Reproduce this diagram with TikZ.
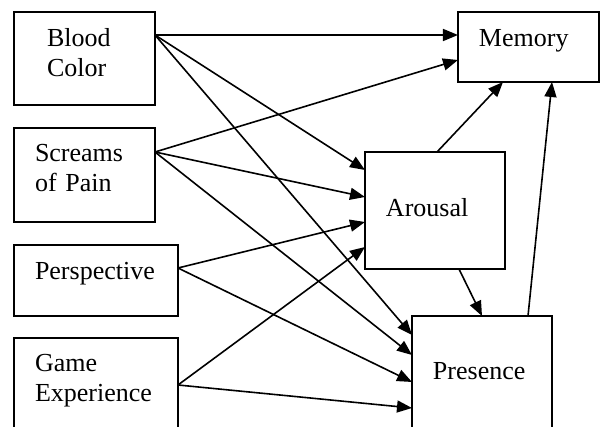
\documentclass[tikz,border=0pt]{standalone}
\usepackage{fontspec}
\setmainfont{Liberation Serif}
\usetikzlibrary{arrows.meta}
\begin{document}
\begin{tikzpicture}[x=0.5pt,y=-0.5pt,
  box/.style={draw, rectangle, line width=0.8pt, anchor=north west, align=left,
    inner xsep=10.5pt, inner ysep=0pt, outer sep=0pt, font=\fontsize{13}{15}\selectfont},
  arr/.style={line width=0.8pt, -{Triangle[length=7.5pt,width=6pt]}}]
\clip (0,0) rectangle (602,427);
\node[box, inner xsep=16.5pt, text width=37.5pt, text height=17.5pt, text depth=29pt] (blood) at (14,12) {Blood\\Color};
\node[box, text width=49.5pt, text height=17pt, text depth=30pt] (screams) at (14,128) {Screams\\of~Pain};
\node[box, text width=61pt, text height=17.5pt, text depth=18pt] (persp) at (14,245) {Perspective};
\node[box, text width=61pt, text height=17pt, text depth=34pt] (game) at (14,338) {Game\\Experience};
\node[box, text width=49.5pt, text height=17.5pt, text depth=17.5pt] (memory) at (458,12) {Memory};
\node[box, text width=49pt, text height=32.5pt, text depth=26pt] (arousal) at (365,152) {Arousal};
\node[box, text width=49pt, text height=32pt, text depth=30pt] (presence) at (412,316) {Presence};

\path[draw,arr] ([yshift=-11.5pt]blood.north east) -- ([yshift=-11.5pt]memory.north west);
\path[draw,arr] ([yshift=-11.5pt]blood.north east) -- ([yshift=-9pt]arousal.north west);
\path[draw,arr] ([yshift=-11.5pt]blood.north east) -- ([yshift=-9.5pt]presence.north west);
\path[draw,arr] ([yshift=-12pt]screams.north east) -- ([yshift=-24pt]memory.north west);
\path[draw,arr] ([yshift=-12pt]screams.north east) -- ([yshift=-22.5pt]arousal.north west);
\path[draw,arr] ([yshift=-12pt]screams.north east) -- ([yshift=-19.5pt]presence.north west);
\path[draw,arr] ([yshift=-11.5pt]persp.north east) -- ([yshift=-35pt]arousal.north west);
\path[draw,arr] ([yshift=-11.5pt]persp.north east) -- ([yshift=-33pt]presence.north west);
\path[draw,arr] ([yshift=-23.5pt]game.north east) -- ([yshift=-47.5pt]arousal.north west);
\path[draw,arr] ([yshift=-23.5pt]game.north east) -- ([yshift=-46pt]presence.north west);
\path[draw,arr] ([xshift=36pt]arousal.north west) -- ([xshift=22.5pt]memory.south west);
\path[draw,arr] ([xshift=47pt]arousal.south west) -- ([xshift=35pt]presence.north west);
\path[draw,arr] ([xshift=58pt]presence.north west) -- ([xshift=47pt]memory.south west);
\end{tikzpicture}
\end{document}
